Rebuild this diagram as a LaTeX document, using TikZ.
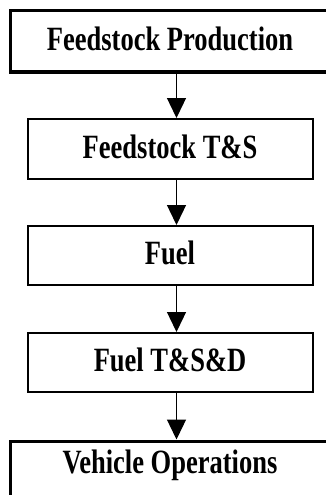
\documentclass[tikz,border=0pt]{standalone}
\usepackage{fontspec}
\setmainfont{Liberation Serif}[FakeStretch=0.78]
\usetikzlibrary{arrows.meta}

\begin{document}
\begin{tikzpicture}[x=1pt, y=-1pt, every node/.style={
    rectangle,
    draw,
    line width=2pt,
    minimum width=285pt,
    minimum height=59pt,
    text height=22pt,
    text depth=4pt,
    font=\fontsize{34}{38}\selectfont\bfseries
}]
    \path[fill=white, use as bounding box] (0,0) rectangle (326,495);

    \node (feedstock_production) [line width=3pt, minimum width=319pt, minimum height=61pt, shift={(170, 41.5)}]
    {
        Feedstock Production
    };

    \node (feedstock_ts) [minimum height=60pt, shift={(170, 149)}]
    {
        Feedstock T\&S
    };

    \node (fuel) [shift={(170, 255.5)}]
    {
        Fuel
    };

    \node (fuel_tsd) [shift={(170, 362.5)}]
    {
        Fuel T\&S\&D
    };

    \node (vehicle_operations) [line width=3pt, minimum width=319pt, minimum height=64pt, text depth=22pt, shift={(170, 473)}]
    {
        Vehicle Operations
    };

    \coordinate (flow_axis) at (176.5, 0);


    \draw[-{Triangle[width=19pt, length=20pt]}, line width=1.3pt] (feedstock_production.south -| flow_axis) to (feedstock_ts.north -| flow_axis);
    \draw[-{Triangle[width=19pt, length=20pt]}, line width=1.3pt] (feedstock_ts.south -| flow_axis) to (fuel.north -| flow_axis);
    \draw[-{Triangle[width=19pt, length=20pt]}, line width=1.3pt] (fuel.south -| flow_axis) to (fuel_tsd.north -| flow_axis);
    \draw[-{Triangle[width=19pt, length=20pt]}, line width=1.3pt] (fuel_tsd.south -| flow_axis) to (vehicle_operations.north -| flow_axis);
\end{tikzpicture}
\end{document}
